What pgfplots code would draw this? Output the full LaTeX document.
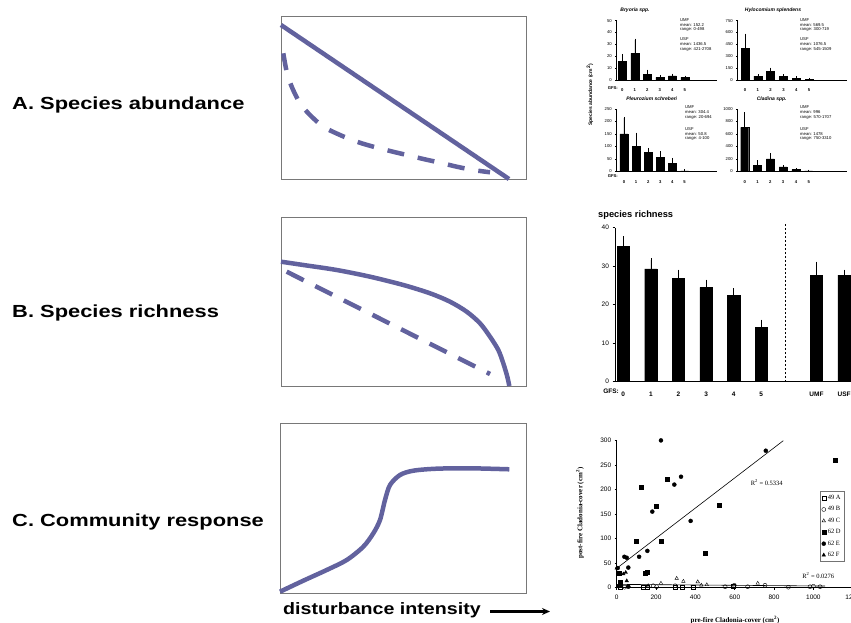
\documentclass[border=0pt]{standalone}
\usepackage{pgfplots}
\pgfplotsset{compat=1.18}
\usepackage{pgfplotstable}
\usepackage{fontspec}
\setmainfont{Liberation Sans}
\newfontfamily\seriffont{Liberation Serif}
\usetikzlibrary{arrows.meta}
\definecolor{conc}{RGB}{98,98,158}
\definecolor{framegray}{RGB}{120,120,120}

% mini abundance plots
\pgfplotstableread{
x y e
0 15.5 5.5
1 22.5 11.2
2 5.0 2.6
3 2.2 0.5
4 3.4 0.8
5 2.2 0.3
}\tabA
\pgfplotstableread{
x y e
0 400 169
1 50 5
2 105 34
3 50 5
4 25 3
5 8 1
}\tabB
\pgfplotstableread{
x y e
0 150 63
1 100 50
2 75 14
3 56 19
4 33 16
5 2 0
}\tabC
\pgfplotstableread{
x y e
0 706 224
1 91 64
2 198 75
3 70 5
4 27 3
5 5 0
}\tabD
% species richness
\pgfplotstableread{
x y e
0 35.1 2.1
1 29.3 2.3
2 26.8 1.8
3 24.5 1.5
4 22.5 1.3
5 14.1 1.5
7 27.7 3.0
8 27.7 0.9
}\tabR

\pgfplotsset{
  concept/.style={scale only axis, anchor=south west, xtick=\empty, ytick=\empty,
    axis line style={framegray, line width=0.8pt}, clip=false},
  mini/.style={scale only axis, anchor=south west, axis lines*=left,
    axis line style={black, line width=0.5pt}, ymin=0, xtick={0,...,5},
    xtick style={draw=none}, tick align=outside, major tick length=1.5pt,
    ytick style={black, line width=0.4pt},
    /pgf/number format/assume math mode=true, /pgf/number format/1000 sep={},
    y tick label style={font=\fontsize{4.2}{5}\selectfont},
    x tick label style={font=\bfseries\fontsize{4.2}{5}\selectfont, yshift=-4pt},
    clip=false},
  minibar/.style={ybar, bar width=8pt, fill=black, draw=black,
    error bars/.cd, y dir=plus, y explicit,
    error bar style={black, line width=0.5pt},
    error mark options={black, mark size=1.3pt, line width=0.5pt}},
}
\tikzset{minitxt/.style={anchor=west, font=\fontsize{4.2}{5}\selectfont, inner sep=0pt}}

\begin{document}
\begin{tikzpicture}[x=1pt,y=1pt]

% ---------- left labels ----------
\node[anchor=base west, inner sep=0pt, font=\bfseries\fontsize{17.5}{20}\selectfont, xscale=1.25] at (12,513.7) {A. Species abundance};
\node[anchor=base west, inner sep=0pt, font=\bfseries\fontsize{17.5}{20}\selectfont, xscale=1.25] at (12,305) {B. Species richness};
\node[anchor=base west, inner sep=0pt, font=\bfseries\fontsize{17.5}{20}\selectfont, xscale=1.25] at (12,96) {C. Community response};

% ---------- concept panel A ----------
\begin{axis}[concept, at={(281pt,444pt)}, width=245pt, height=163pt,
  xmin=0, xmax=245, ymin=0, ymax=163]
\addplot[conc, line width=4.5pt] coordinates {(0,154) (228,0)};
\addplot[conc, line width=4.5pt, smooth, dash pattern=on 17pt off 14pt] coordinates {
(2.3,125.7) (5.7,107.3) (10.7,92.3) (19,75.7) (29,64) (42.3,52.3) (59,44)
(75.7,37.3) (92.3,32.3) (109,28) (125.7,24) (142.3,20) (159,16.3) (175.7,12.3)
(192.3,9) (209,6.7)};
\end{axis}

% ---------- concept panel B ----------
\begin{axis}[concept, at={(281pt,237pt)}, width=245pt, height=169pt,
  xmin=0, xmax=245, ymin=0, ymax=169]
\addplot[conc, line width=4.5pt, smooth] coordinates {
(0,124.3) (22.3,121) (55.7,116) (89,109.3) (122.3,101) (149,92.7) (169,84.3)
(185.7,74.3) (199,62.7) (209,49.3) (217.3,36) (222.3,22.7) (226.3,9.3) (228.3,0)};
\addplot[conc, line width=4.5pt, dash pattern=on 19pt off 13pt] coordinates {(5.7,114.3) (209,12)};
\end{axis}

% ---------- concept panel C ----------
\begin{axis}[concept, at={(280pt,30pt)}, width=246pt, height=170pt,
  xmin=0, xmax=246, ymin=0, ymax=170]
\addplot[conc, line width=4.5pt, smooth] coordinates {
(0,1.3) (23.3,12.3) (46.7,23) (66.7,33) (83.3,46.3) (93.3,59.7) (100,73)
(105,93) (110,108) (120,118) (133.3,122.3) (156.7,124.3) (190,124.7) (229.3,123.7)};
\end{axis}

\node[anchor=base west, inner sep=0pt, font=\bfseries\fontsize{16.5}{19}\selectfont, xscale=1.19] at (283,8) {disturbance intensity};
\draw[black, line width=2.5pt, -{Stealth[length=8pt,width=7pt]}] (490,11.5) -- (550,11.5);

% ---------- mini abundance plots ----------
\node[rotate=90, font=\bfseries\fontsize{5}{6}\selectfont, inner sep=0pt] at (590,528) {Species abundance (cm\textsuperscript{2})};

\begin{axis}[mini, at={(616.7pt,543pt)}, width=100.3pt, height=59.3pt,
  xmin=-0.45, xmax=7.57, ymax=50, ytick={0,10,...,50}]
\addplot[minibar] table[x=x, y=y, y error=e] {\tabA};
\end{axis}
\node[font=\bfseries\itshape\fontsize{5}{6}\selectfont] at (635,613) {Bryoria spp.};
\node[anchor=east, font=\bfseries\fontsize{4.2}{5}\selectfont, inner sep=0pt] at (618,535) {GFS:};
\node[minitxt] at (680,603) {UMF};
\node[minitxt] at (680,598) {mean: 152.2};
\node[minitxt] at (680,593.7) {range: 0-498};
\node[minitxt] at (680,583.7) {USF};
\node[minitxt] at (680,578.7) {mean: 1436.5};
\node[minitxt] at (680,574) {range: 421-2708};

\begin{axis}[mini, at={(737.7pt,543pt)}, width=109pt, height=59.3pt,
  xmin=-0.57, xmax=7.94, ymax=750, ytick={0,150,...,750}]
\addplot[minibar] table[x=x, y=y, y error=e] {\tabB};
\end{axis}
\node[font=\bfseries\itshape\fontsize{5}{6}\selectfont] at (773,613) {Hylocomium splendens};
\node[minitxt] at (800,603) {UMF};
\node[minitxt] at (800,598) {mean: 569.5};
\node[minitxt] at (800,593.7) {range: 300-719};
\node[minitxt] at (800,583.7) {USF};
\node[minitxt] at (800,578.7) {mean: 1076.5};
\node[minitxt] at (800,574) {range: 545-1509};

\begin{axis}[mini, at={(616.7pt,451.7pt)}, width=100pt, height=62.3pt,
  xmin=-0.6, xmax=7.66, ymax=250, ytick={0,50,...,250}]
\addplot[minibar] table[x=x, y=y, y error=e] {\tabC};
\end{axis}
\node[font=\bfseries\itshape\fontsize{5}{6}\selectfont] at (651.7,524) {Pleurozium schreberi};
\node[anchor=east, font=\bfseries\fontsize{4.2}{5}\selectfont, inner sep=0pt] at (618,447.3) {GFS:};
\node[minitxt] at (685,515.7) {UMF};
\node[minitxt] at (685,510.7) {mean: 304.4};
\node[minitxt] at (685,505.7) {range: 20-694};
\node[minitxt] at (685,493.7) {USF};
\node[minitxt] at (685,489) {mean: 50.8};
\node[minitxt] at (685,484.3) {range: 4-100};

\begin{axis}[mini, at={(737.7pt,451.7pt)}, width=109pt, height=62.3pt,
  xmin=-0.55, xmax=7.97, ymax=1000, ytick={0,200,...,1000}]
\addplot[minibar] table[x=x, y=y, y error=e] {\tabD};
\end{axis}
\node[font=\bfseries\itshape\fontsize{5}{6}\selectfont] at (771.7,524) {Cladina spp.};
\node[minitxt] at (800,515.7) {UMF};
\node[minitxt] at (800,510.7) {mean: 996};
\node[minitxt] at (800,505.7) {range: 570-1707};
\node[minitxt] at (800,493.7) {USF};
\node[minitxt] at (800,489) {mean: 1478};
\node[minitxt] at (800,484.3) {range: 750-3310};

% ---------- species richness ----------
\node[anchor=west, inner sep=0pt, font=\bfseries\fontsize{9.3}{11}\selectfont] at (598,408) {species richness};
\begin{axis}[at={(615pt,241.3pt)}, anchor=south west, scale only axis, width=236pt, height=154pt,
  xmin=-0.3, xmax=8.25, ymin=0, ymax=40, axis lines*=left,
  axis line style={black, line width=0.6pt},
  xtick={0,1,2,3,4,5,7,8}, xticklabels={0,1,2,3,4,5,UMF,USF},
  xtick style={draw=none}, ytick={0,10,...,40}, ytick style={black, line width=0.5pt},
  tick align=outside, major tick length=2.5pt,
  /pgf/number format/assume math mode=true,
  y tick label style={font=\fontsize{6.5}{7}\selectfont},
  x tick label style={font=\bfseries\fontsize{6.5}{7}\selectfont, yshift=-4pt},
  clip=false]
\addplot[ybar, bar width=12.3pt, fill=black, draw=black,
  error bars/.cd, y dir=plus, y explicit,
  error bar style={black, line width=0.7pt},
  error mark options={black, mark size=2pt, line width=0.7pt}]
  table[x=x, y=y, y error=e] {\tabR};
\addplot[black, line width=0.6pt, dash pattern=on 2pt off 2pt] coordinates {(5.87,0) (5.87,41.5)};
\end{axis}
\node[anchor=east, inner sep=0pt, font=\bfseries\fontsize{6.5}{7}\selectfont] at (619,231.3) {GFS:};

% ---------- scatter ----------
\begin{axis}[at={(616.7pt,35.3pt)}, anchor=south west, scale only axis, width=236pt, height=147.3pt,
  xmin=0, xmax=1200, ymin=0, ymax=300, axis lines*=left,
  axis line style={black, line width=0.5pt},
  xtick={0,200,...,1200}, ytick={0,50,...,300},
  tick style={black, line width=0.5pt}, tick align=outside, major tick length=2pt,
  /pgf/number format/assume math mode=true, /pgf/number format/1000 sep={},
  tick label style={font=\fontsize{6.5}{7}\selectfont},
  x tick label style={yshift=-2pt},
  clip=false,
  legend style={at={(axis cs:1034,196)}, anchor=north west, draw=black!55,
    font=\seriffont\fontsize{6.5}{7}\selectfont, row sep=1.6pt, inner sep=1.5pt,
    cells={anchor=west}},
  mark size=2pt]
\addplot[only marks, mark=square, mark options={draw=black, fill=white, line width=0.4pt}] coordinates {
(136,1) (153,1) (297,1) (331,1) (390,1) (593,3) (20,2)};
\addlegendentry{49 A}
\addplot[only marks, mark=o, mark options={draw=black, fill=white, line width=0.4pt}] coordinates {
(40,1) (186,4) (203,2) (297,4) (551,2) (598,5) (666,2) (754,5) (873,1) (983,2) (1000,3) (1034,2)};
\addlegendentry{49 B}
\addplot[only marks, mark=triangle, mark options={draw=black, fill=white, line width=0.4pt}] coordinates {
(225,9) (305,19) (339,13) (412,12) (430,5) (458,6) (717,9) (160,4)};
\addlegendentry{49 C}
\addplot[only marks, mark=square*, mark options={draw=black, fill=black}] coordinates {
(259,221) (124,204) (200,166) (520,168) (1110,260) (97,95) (225,95) (449,70)
(147,29) (153,31) (12,29) (17,11) (17,9) (20,5)};
\addlegendentry{62 D}
\addplot[only marks, mark=*, mark options={draw=black, fill=black}] coordinates {
(225,300) (758,279) (293,210) (327,226) (181,155) (376,136) (156,75) (114,63)
(39,63) (51,61) (59,41) (5,40) (59,2) (10,3)};
\addlegendentry{62 E}
\addplot[only marks, mark=triangle*, mark options={draw=black, fill=black}] coordinates {
(34,28) (46,31) (51,14) (0,40) (10,5) (55,3)};
\addlegendentry{62 F}
\addplot[black, line width=0.6pt, forget plot] coordinates {(0,39.4) (847,299.4)};
\addplot[black, line width=0.6pt, forget plot] coordinates {(0,6.8) (1060,3.4)};
\node[font=\seriffont\fontsize{6.5}{7}\selectfont] at (axis cs:763,214) {R\textsuperscript{2} = 0.5334};
\node[font=\seriffont\fontsize{6.5}{7}\selectfont] at (axis cs:1025,24.4) {R\textsuperscript{2} = 0.0276};
\end{axis}
\node[rotate=90, font=\seriffont\bfseries\fontsize{7}{8}\selectfont] at (580,110) {post-fire Cladonia-cover (cm\textsuperscript{2})};
\node[anchor=base, font=\seriffont\bfseries\fontsize{7}{8}\selectfont] at (735,0.5) {pre-fire Cladonia-cover (cm\textsuperscript{2})};

\pgfresetboundingbox
\useasboundingbox (0,0) rectangle (851,623);
\end{tikzpicture}
\end{document}
